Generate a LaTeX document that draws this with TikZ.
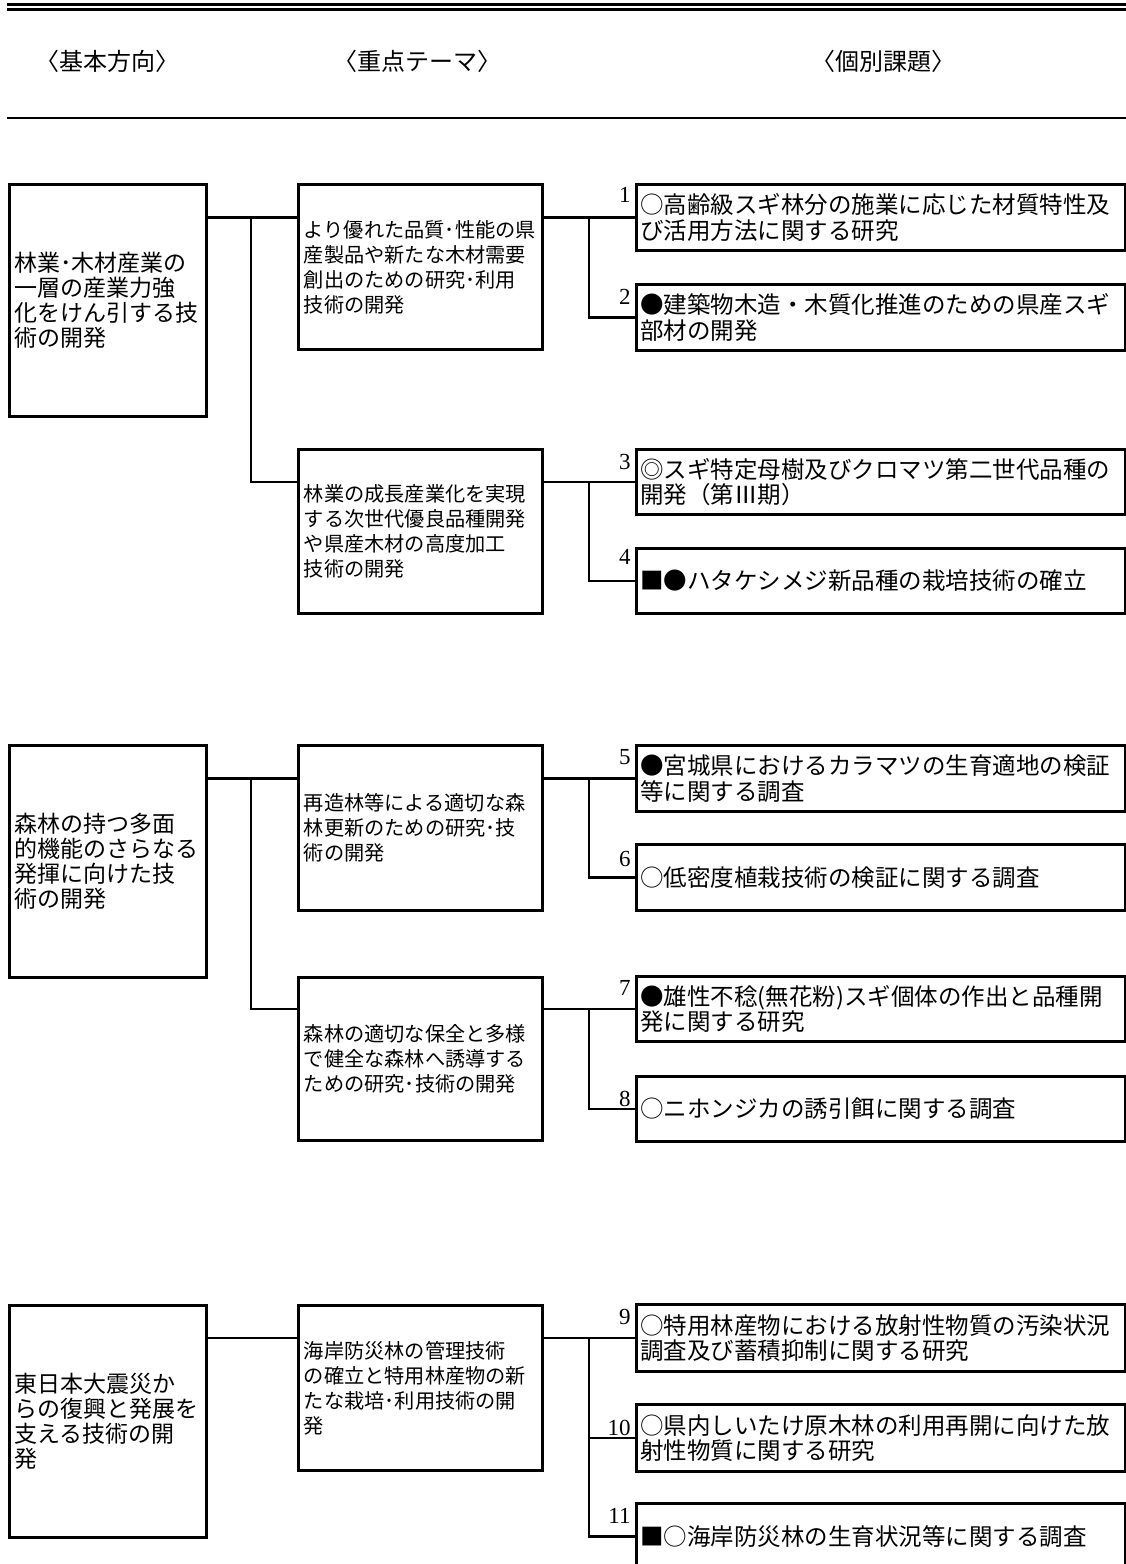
\documentclass[tikz,border=0pt]{standalone}
\usepackage{fontspec}
\setmainfont{Liberation Serif}
\newfontfamily\jpfont{Noto Sans CJK JP}

\begin{document}
\begin{tikzpicture}[x=1pt, y=-1pt, line width=2.9pt]
    \tikzset{%
      dirbox/.style={draw, anchor=north west, minimum height=232pt, text width=187pt, inner xsep=5pt, align=left, font=\jpfont\fontsize{23}{25}\selectfont},
      themebox/.style={draw, anchor=north west, minimum height=165pt, text width=233pt, inner xsep=5.5pt, align=left, font=\jpfont\fontsize{20.2}{25}\selectfont},
      itembox/.style={draw, anchor=north west, minimum height=66pt, text width=481pt, inner xsep=4pt, align=left, font=\jpfont\fontsize{23.5}{25.5}\selectfont},
      numlabel/.style={anchor=east, inner sep=0pt, font=\fontsize{23}{23}\selectfont},
      head/.style={font=\jpfont\fontsize{24}{24}\selectfont}
      }
    \useasboundingbox (0,0) rectangle (1126,1564);

    % rules and column heads
    \draw [line width=3pt] (7,4.7) -- (1126,4.7);
    \draw [line width=3pt] (7,9.7) -- (1126,9.7);
    \draw [line width=2pt] (7,118) -- (1126,118);
    \node [head] (hdir) at (107.5,61) {〈基本方向〉};
    \node [head] (htheme) at (417,61) {〈重点テーマ〉};
    \node [head] (hitem) at (883,61) {〈個別課題〉};

    \coordinate (jl) at (251,0);
    \coordinate (jr) at (589,0);

    % group 1
    \node [dirbox] (d1) at (8,183) {林業･木材産業の\\一層の産業力強\\化をけん引する技\\術の開発};
    \node [themebox] (t1) at (297,183) {より優れた品質･性能の県\\産製品や新たな木材需要\\創出のための研究･利用\\技術の開発};
    \node [themebox, minimum height=164pt] (t2) at (297,448) {林業の成長産業化を実現\\する次世代優良品種開発\\や県産木材の高度加工\\技術の開発};
    \node [itembox] (i1) at (635,183) {○高齢級スギ林分の施業に応じた材質特性及\\び活用方法に関する研究};
    \node [itembox] (i2) at (635,283) {●建築物木造・木質化推進のための県産スギ\\部材の開発};
    \node [itembox, minimum height=65pt] (i3) at (635,448) {◎スギ特定母樹及びクロマツ第二世代品種の\\開発（第Ⅲ期）};
    \node [itembox, minimum height=65pt] (i4) at (635,547) {■●ハタケシメジ新品種の栽培技術の確立};
    \node [numlabel] (n1) at (632,195) {1};
    \node [numlabel] (n2) at (632,297) {2};
    \node [numlabel] (n3) at (632,462) {3};
    \node [numlabel] (n4) at (632,557) {4};

    \draw (d1.east |- i1.west) -- (t1.west |- i1.west);
    \draw (t1.east |- i1.west) -- (i1.west);
    \draw (jl |- i1.west) |- (t2.west |- i3.west);
    \draw (t2.east |- i3.west) -- (i3.west);
    \draw (jr |- i1.west) |- (i2.west);
    \draw (jr |- i3.west) |- (i4.west);

    % group 2
    \node [dirbox] (d2) at (8,744) {森林の持つ多面\\的機能のさらなる\\発揮に向けた技\\術の開発};
    \node [themebox] (t3) at (297,744) {再造林等による適切な森\\林更新のための研究･技\\術の開発};
    \node [themebox, minimum height=163pt] (t4) at (297,976) {森林の適切な保全と多様\\で健全な森林へ誘導する\\ための研究･技術の開発};
    \node [itembox] (i5) at (635,744) {●宮城県におけるカラマツの生育適地の検証\\等に関する調査};
    \node [itembox] (i6) at (635,843) {○低密度植栽技術の検証に関する調査};
    \node [itembox, minimum height=65pt] (i7) at (635,975) {●雄性不稔(無花粉)スギ個体の作出と品種開\\発に関する研究};
    \node [itembox, minimum height=65pt] (i8) at (635,1075) {○ニホンジカの誘引餌に関する調査};
    \node [numlabel] (n5) at (632,757) {5};
    \node [numlabel] (n6) at (632,859) {6};
    \node [numlabel] (n7) at (632,988) {7};
    \node [numlabel] (n8) at (632,1099) {8};

    \draw (d2.east |- i5.west) -- (t3.west |- i5.west);
    \draw (t3.east |- i5.west) -- (i5.west);
    \draw (jl |- i5.west) |- (t4.west |- i7.west);
    \draw (t4.east |- i7.west) -- (i7.west);
    \draw (jr |- i5.west) |- (i6.west);
    \draw (jr |- i7.west) |- (i8.west);

    % group 3
    \node [dirbox] (d3) at (8,1304) {東日本大震災か\\らの復興と発展を\\支える技術の開\\発};
    \node [themebox] (t5) at (297,1304) {海岸防災林の管理技術\\の確立と特用林産物の新\\たな栽培･利用技術の開\\発};
    \node [itembox, minimum height=67pt] (i9) at (635,1303) {○特用林産物における放射性物質の汚染状況\\調査及び蓄積抑制に関する研究};
    \node [itembox, minimum height=67pt] (i10) at (635,1403) {○県内しいたけ原木林の利用再開に向けた放\\射性物質に関する研究};
    \node [itembox] (i11) at (635,1502) {■○海岸防災林の生育状況等に関する調査};
    \node [numlabel] (n9) at (632,1317) {9};
    \node [numlabel] (n10) at (632,1428) {10};
    \node [numlabel] (n11) at (632,1516) {11};

    \draw (d3.east |- i9.west) -- (t5.west |- i9.west);
    \draw (t5.east |- i9.west) -- (i9.west);
    \draw (jr |- i9.west) |- (i10.west);
    \draw (jr |- i10.west) |- (i11.west);

\end{tikzpicture}
\end{document}
